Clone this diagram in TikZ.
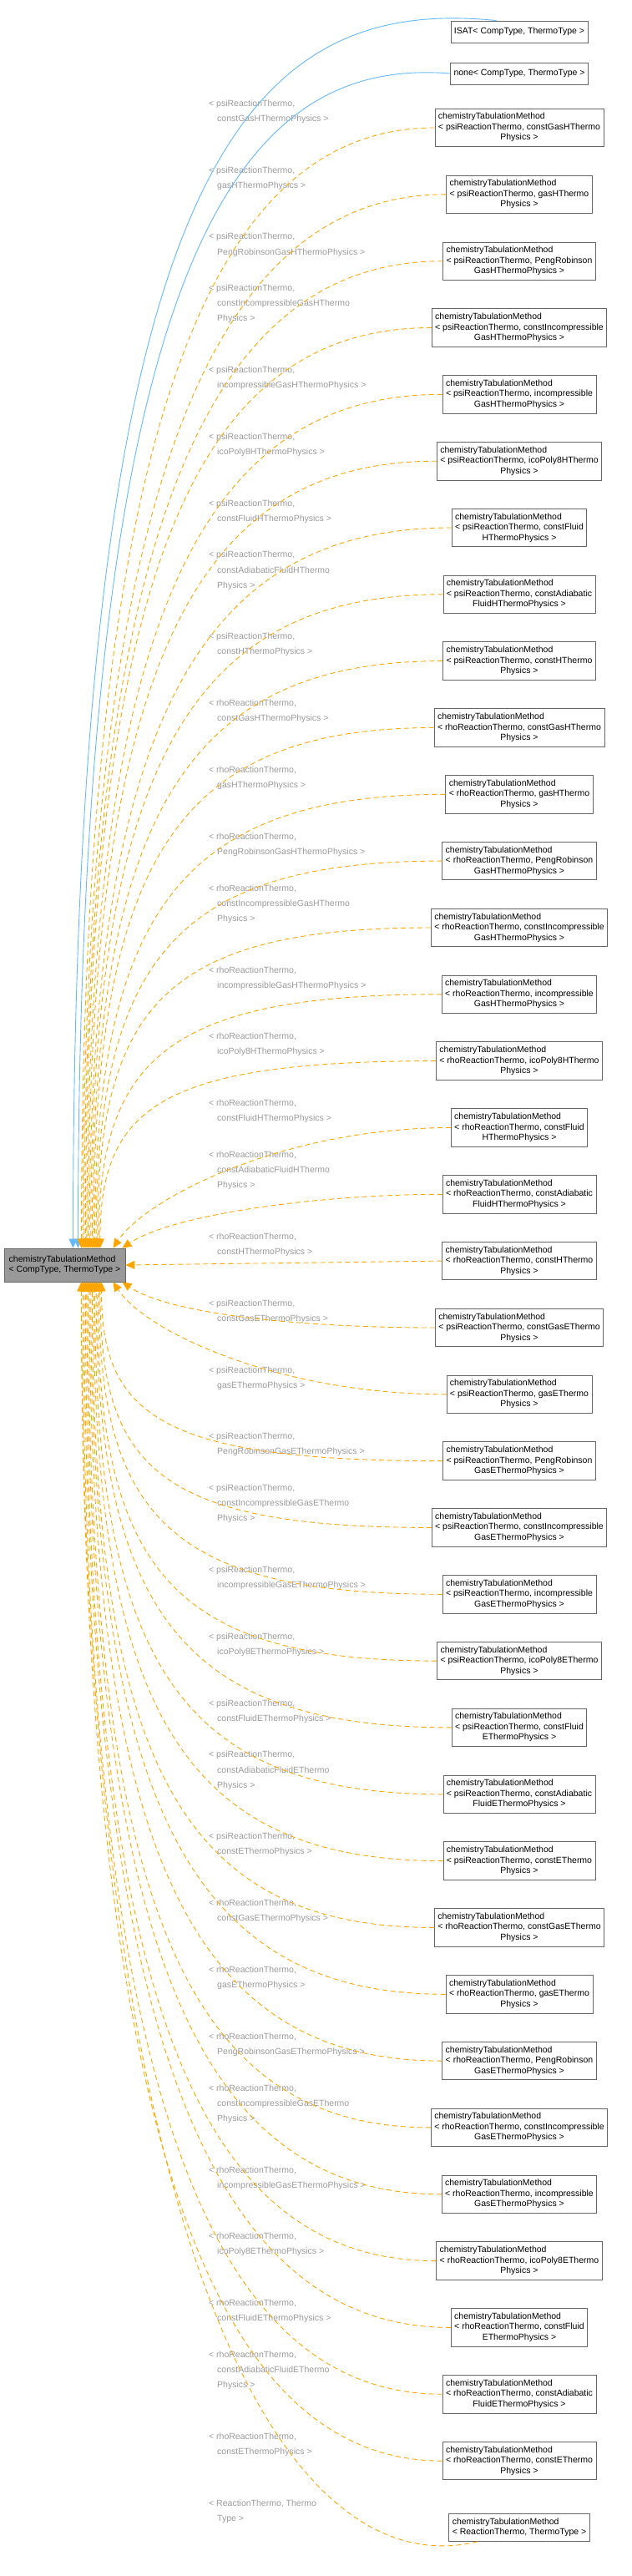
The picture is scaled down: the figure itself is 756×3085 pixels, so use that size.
\documentclass[tikz,border=0pt]{standalone}
\usepackage{fontspec}
\setmainfont{Liberation Sans}
\usetikzlibrary{arrows.meta}
\definecolor{dorange}{HTML}{FFA500}
\definecolor{dblue}{HTML}{63B8FF}
\definecolor{dlab}{HTML}{9A9A9A}
\definecolor{dbord}{HTML}{666666}
\newcommand\ctr[1]{\multicolumn{1}{@{}c@{}}{#1}}
\newcommand\ind{\hspace*{10pt}}
\tikzset{
 cls/.style={draw=dbord,fill=white,line width=0.8pt,inner sep=4pt,font=\fontsize{10.5}{12.5}\selectfont},
 mainn/.style={cls,fill=black!40},
 lbl/.style={text=dlab,inner sep=0pt,font=\fontsize{10.5}{12.5}\selectfont},
 tmpl/.style={draw=dorange,line width=0.9pt,dash pattern=on 6pt off 4pt,-{Triangle[length=11pt,width=10pt,fill=dorange]}},
 inh/.style={draw=dblue,line width=0.9pt,-{Triangle[length=11pt,width=10pt,fill=dblue]}},
}
\newcommand\child[4]{%
 \node[cls] (#1) at (622,#2) {\begin{tabular}{@{}l@{}}#3\end{tabular}};
 \node[lbl,anchor=south west] (#1l) at (250,{#2-2}) {\renewcommand\arraystretch{1.45}\begin{tabular}{@{}l@{}}#4\end{tabular}};}
\begin{document}
\begin{tikzpicture}[x=1pt,y=-1pt]
\useasboundingbox (0,0) rectangle (756,3085);
\node[mainn,minimum width=145pt,minimum height=40pt] (main) at (77.5,1515) {\begin{tabular}{@{}l@{}}chemistryTabulationMethod\\< CompType, ThermoType >\end{tabular}};
\node[cls,minimum height=26pt] (isat) at (622,38) {ISAT< CompType, ThermoType >};
\node[cls,minimum height=26pt] (none) at (622,88) {none< CompType, ThermoType >};
% psi H
\child{n3}{153}{chemistryTabulationMethod\\< psiReactionThermo, constGasHThermo\\\ctr{Physics >}}{< psiReactionThermo,\\\ind constGasHThermoPhysics >}
\child{n4}{232.8}{chemistryTabulationMethod\\< psiReactionThermo, gasHThermo\\\ctr{Physics >}}{< psiReactionThermo,\\\ind gasHThermoPhysics >}
\child{n5}{312.7}{chemistryTabulationMethod\\< psiReactionThermo, PengRobinson\\\ctr{GasHThermoPhysics >}}{< psiReactionThermo,\\\ind PengRobinsonGasHThermoPhysics >}
\child{n6}{392.5}{chemistryTabulationMethod\\< psiReactionThermo, constIncompressible\\\ctr{GasHThermoPhysics >}}{< psiReactionThermo,\\\ind constIncompressibleGasHThermo\\\ind Physics >}
\child{n7}{472.3}{chemistryTabulationMethod\\< psiReactionThermo, incompressible\\\ctr{GasHThermoPhysics >}}{< psiReactionThermo,\\\ind incompressibleGasHThermoPhysics >}
\child{n8}{552.2}{chemistryTabulationMethod\\< psiReactionThermo, icoPoly8HThermo\\\ctr{Physics >}}{< psiReactionThermo,\\\ind icoPoly8HThermoPhysics >}
\child{n9}{632.0}{chemistryTabulationMethod\\< psiReactionThermo, constFluid\\\ctr{HThermoPhysics >}}{< psiReactionThermo,\\\ind constFluidHThermoPhysics >}
\child{n10}{711.8}{chemistryTabulationMethod\\< psiReactionThermo, constAdiabatic\\\ctr{FluidHThermoPhysics >}}{< psiReactionThermo,\\\ind constAdiabaticFluidHThermo\\\ind Physics >}
\child{n11}{791.6}{chemistryTabulationMethod\\< psiReactionThermo, constHThermo\\\ctr{Physics >}}{< psiReactionThermo,\\\ind constHThermoPhysics >}
% rho H
\child{n12}{871.5}{chemistryTabulationMethod\\< rhoReactionThermo, constGasHThermo\\\ctr{Physics >}}{< rhoReactionThermo,\\\ind constGasHThermoPhysics >}
\child{n13}{951.3}{chemistryTabulationMethod\\< rhoReactionThermo, gasHThermo\\\ctr{Physics >}}{< rhoReactionThermo,\\\ind gasHThermoPhysics >}
\child{n14}{1031.1}{chemistryTabulationMethod\\< rhoReactionThermo, PengRobinson\\\ctr{GasHThermoPhysics >}}{< rhoReactionThermo,\\\ind PengRobinsonGasHThermoPhysics >}
\child{n15}{1111.0}{chemistryTabulationMethod\\< rhoReactionThermo, constIncompressible\\\ctr{GasHThermoPhysics >}}{< rhoReactionThermo,\\\ind constIncompressibleGasHThermo\\\ind Physics >}
\child{n16}{1190.8}{chemistryTabulationMethod\\< rhoReactionThermo, incompressible\\\ctr{GasHThermoPhysics >}}{< rhoReactionThermo,\\\ind incompressibleGasHThermoPhysics >}
\child{n17}{1270.6}{chemistryTabulationMethod\\< rhoReactionThermo, icoPoly8HThermo\\\ctr{Physics >}}{< rhoReactionThermo,\\\ind icoPoly8HThermoPhysics >}
\child{n18}{1350.5}{chemistryTabulationMethod\\< rhoReactionThermo, constFluid\\\ctr{HThermoPhysics >}}{< rhoReactionThermo,\\\ind constFluidHThermoPhysics >}
\child{n19}{1430.3}{chemistryTabulationMethod\\< rhoReactionThermo, constAdiabatic\\\ctr{FluidHThermoPhysics >}}{< rhoReactionThermo,\\\ind constAdiabaticFluidHThermo\\\ind Physics >}
\child{n20}{1510.1}{chemistryTabulationMethod\\< rhoReactionThermo, constHThermo\\\ctr{Physics >}}{< rhoReactionThermo,\\\ind constHThermoPhysics >}
% psi E
\child{n21}{1590.0}{chemistryTabulationMethod\\< psiReactionThermo, constGasEThermo\\\ctr{Physics >}}{< psiReactionThermo,\\\ind constGasEThermoPhysics >}
\child{n22}{1669.8}{chemistryTabulationMethod\\< psiReactionThermo, gasEThermo\\\ctr{Physics >}}{< psiReactionThermo,\\\ind gasEThermoPhysics >}
\child{n23}{1749.6}{chemistryTabulationMethod\\< psiReactionThermo, PengRobinson\\\ctr{GasEThermoPhysics >}}{< psiReactionThermo,\\\ind PengRobinsonGasEThermoPhysics >}
\child{n24}{1829.4}{chemistryTabulationMethod\\< psiReactionThermo, constIncompressible\\\ctr{GasEThermoPhysics >}}{< psiReactionThermo,\\\ind constIncompressibleGasEThermo\\\ind Physics >}
\child{n25}{1909.3}{chemistryTabulationMethod\\< psiReactionThermo, incompressible\\\ctr{GasEThermoPhysics >}}{< psiReactionThermo,\\\ind incompressibleGasEThermoPhysics >}
\child{n26}{1989.1}{chemistryTabulationMethod\\< psiReactionThermo, icoPoly8EThermo\\\ctr{Physics >}}{< psiReactionThermo,\\\ind icoPoly8EThermoPhysics >}
\child{n27}{2068.9}{chemistryTabulationMethod\\< psiReactionThermo, constFluid\\\ctr{EThermoPhysics >}}{< psiReactionThermo,\\\ind constFluidEThermoPhysics >}
\child{n28}{2148.8}{chemistryTabulationMethod\\< psiReactionThermo, constAdiabatic\\\ctr{FluidEThermoPhysics >}}{< psiReactionThermo,\\\ind constAdiabaticFluidEThermo\\\ind Physics >}
\child{n29}{2228.6}{chemistryTabulationMethod\\< psiReactionThermo, constEThermo\\\ctr{Physics >}}{< psiReactionThermo,\\\ind constEThermoPhysics >}
% rho E
\child{n30}{2308.4}{chemistryTabulationMethod\\< rhoReactionThermo, constGasEThermo\\\ctr{Physics >}}{< rhoReactionThermo,\\\ind constGasEThermoPhysics >}
\child{n31}{2388.3}{chemistryTabulationMethod\\< rhoReactionThermo, gasEThermo\\\ctr{Physics >}}{< rhoReactionThermo,\\\ind gasEThermoPhysics >}
\child{n32}{2468.1}{chemistryTabulationMethod\\< rhoReactionThermo, PengRobinson\\\ctr{GasEThermoPhysics >}}{< rhoReactionThermo,\\\ind PengRobinsonGasEThermoPhysics >}
\child{n33}{2547.9}{chemistryTabulationMethod\\< rhoReactionThermo, constIncompressible\\\ctr{GasEThermoPhysics >}}{< rhoReactionThermo,\\\ind constIncompressibleGasEThermo\\\ind Physics >}
\child{n34}{2627.8}{chemistryTabulationMethod\\< rhoReactionThermo, incompressible\\\ctr{GasEThermoPhysics >}}{< rhoReactionThermo,\\\ind incompressibleGasEThermoPhysics >}
\child{n35}{2707.6}{chemistryTabulationMethod\\< rhoReactionThermo, icoPoly8EThermo\\\ctr{Physics >}}{< rhoReactionThermo,\\\ind icoPoly8EThermoPhysics >}
\child{n36}{2787.4}{chemistryTabulationMethod\\< rhoReactionThermo, constFluid\\\ctr{EThermoPhysics >}}{< rhoReactionThermo,\\\ind constFluidEThermoPhysics >}
\child{n37}{2867.2}{chemistryTabulationMethod\\< rhoReactionThermo, constAdiabatic\\\ctr{FluidEThermoPhysics >}}{< rhoReactionThermo,\\\ind constAdiabaticFluidEThermo\\\ind Physics >}
\child{n38}{2947.1}{chemistryTabulationMethod\\< rhoReactionThermo, constEThermo\\\ctr{Physics >}}{< rhoReactionThermo,\\\ind constEThermoPhysics >}
\child{n39}{3026.9}{chemistryTabulationMethod\\< ReactionThermo, ThermoType >}{< ReactionThermo, Thermo\\\ind Type >}
% blue edges
\draw[inh] ([xshift=55]isat.north west) .. controls +(-300,-30) and +(0,-1300) .. ([xshift=10]main.north);
\draw[inh] (none.west) .. controls +(-250,-20) and +(0,-1200) .. ([xshift=16]main.north);
% upper orange edges
\foreach \i in {3,...,17} {
  \pgfmathsetmacro\dx{20+(\i-3)*1.6}
  \pgfmathsetmacro\cy{-0.75*(1495-(153+(\i-3)*79.83))}
  \pgfmathsetmacro\cx{-(260+(\i-3)*5)}
  \draw[tmpl] (n\i.west) .. controls +(\cx,0) and +(0,\cy) .. ([xshift=\dx]main.north);
}
\draw[tmpl] (n18.west) .. controls +(-200,0) and +(40,-60) .. ([xshift=-15]main.north east);
\draw[tmpl] (n19.west) .. controls +(-150,0) and +(60,-40) .. ([xshift=-4]main.north east);
\draw[tmpl] (n20.west) -- (main.east);
\draw[tmpl] (n21.west) .. controls +(-150,0) and +(60,40) .. ([xshift=-4]main.south east);
\draw[tmpl] (n22.west) .. controls +(-200,0) and +(40,60) .. ([xshift=-15]main.south east);
\foreach \i in {23,...,38} {
  \pgfmathsetmacro\dx{20+(38-\i)*1.6}
  \pgfmathsetmacro\cy{0.75*((153+(\i-3)*79.83)-1535)}
  \pgfmathsetmacro\cx{-(260+(38-\i)*5)}
  \draw[tmpl] (n\i.west) .. controls +(\cx,0) and +(0,\cy) .. ([xshift=\dx]main.south);
}
\draw[tmpl] ([xshift=-50]n39.south) .. controls +(-250,60) and +(0,1100) .. ([xshift=20]main.south);
\end{tikzpicture}
\end{document}
